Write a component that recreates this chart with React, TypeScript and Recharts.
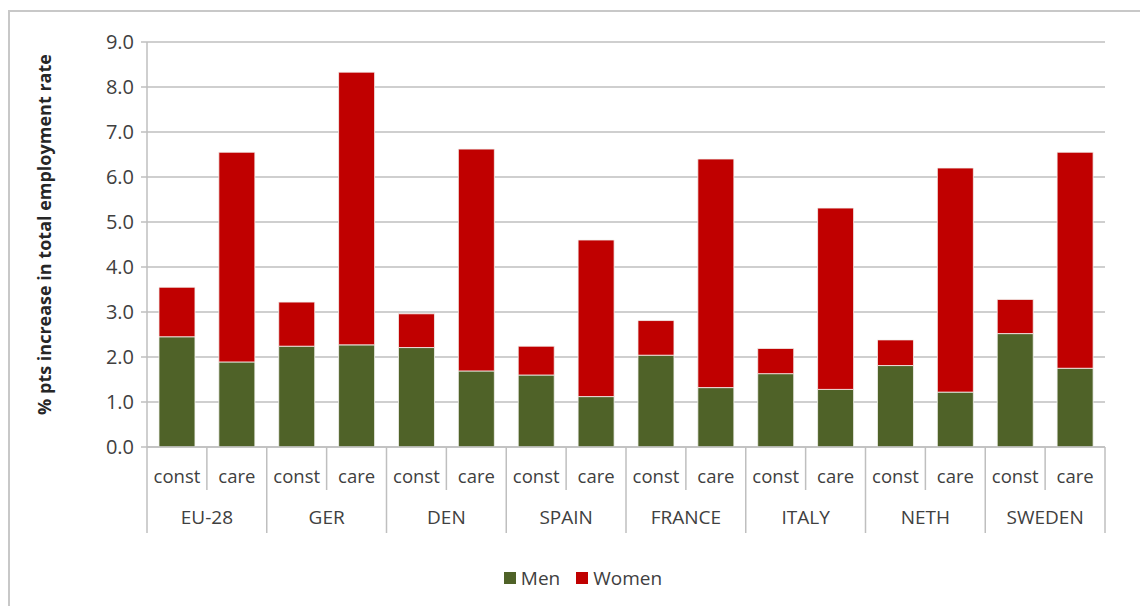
import React from "react";
import { BarChart, Bar, XAxis, YAxis, CartesianGrid } from "recharts";

const countries = ["EU-28", "GER", "DEN", "SPAIN", "FRANCE", "ITALY", "NETH", "SWEDEN"];
const scenarios = ["const", "care"];
// order: per country [const, care]
const menValues = [2.45, 1.89, 2.24, 2.27, 2.21, 1.69, 1.6, 1.12, 2.04, 1.32, 1.63, 1.28, 1.81, 1.22, 2.52, 1.75];
const womenValues = [1.1, 4.66, 0.98, 6.06, 0.75, 4.93, 0.64, 3.48, 0.77, 5.08, 0.56, 4.03, 0.57, 4.98, 0.76, 4.8];
const yTicks = [0, 1, 2, 3, 4, 5, 6, 7, 8, 9];

const MEN = "#4f6228";
const WOMEN = "#c00000";
const TEXT = "#404040";
const GRID = "#bfbfbf";
const FONT = "'Open Sans', sans-serif";

const data = countries.flatMap((c, ci) =>
  scenarios.map((s, si) => {
    const i = ci * scenarios.length + si;
    return { key: `${c}-${s}`, country: c, scenario: s, men: menValues[i], women: womenValues[i] };
  })
);

const CHART_W = 1140;
const CHART_H = 606;
const MARGIN = { top: 42, right: 35, left: 87, bottom: 69 };
const Y_W = 60;
const PLOT_W = CHART_W - MARGIN.left - Y_W - MARGIN.right;
const HALF = PLOT_W / data.length / 2;

const CatTick = (props: any) => {
  const { x, y, payload, index } = props;
  const d = data[index] || data.find((e) => e.key === payload.value);
  const isFirst = index % 2 === 0;
  const isLast = index === data.length - 1;
  const top = y - 8;
  return (
    <g>
      <line x1={x - HALF} x2={x - HALF} y1={top} y2={isFirst ? top + 86 : top + 43} stroke={GRID} strokeWidth={1.5} />
      {isLast && <line x1={x + HALF} x2={x + HALF} y1={top} y2={top + 86} stroke={GRID} strokeWidth={1.5} />}
      <text x={x} y={top + 36} textAnchor="middle" fontSize={18.5} fontFamily={FONT} fill={TEXT}>
        {d ? d.scenario : ""}
      </text>
      {isFirst && d && (
        <text x={x + HALF} y={top + 77} textAnchor="middle" fontSize={19} fontFamily={FONT} fill={TEXT}>
          {d.country}
        </text>
      )}
    </g>
  );
};

export default function App() {
  return (
    <div style={{ position: "absolute", left: 0, top: 0, width: CHART_W, height: CHART_H, background: "#fff", overflow: "hidden" }}>
      <div
        style={{
          position: "absolute",
          left: 8,
          top: 10,
          width: 1200,
          height: 700,
          borderLeft: "2px solid #c8c8c8",
          borderTop: "2px solid #c8c8c8",
        }}
      />
      <div style={{ position: "absolute", left: 0, top: 0 }}>
        <BarChart width={CHART_W} height={CHART_H} data={data} margin={MARGIN} barCategoryGap="20%">
          <CartesianGrid vertical={false} stroke={GRID} strokeWidth={1.5} />
          <XAxis
            dataKey="key"
            interval={0}
            tick={<CatTick />}
            tickLine={false}
            axisLine={{ stroke: GRID, strokeWidth: 1.5 }}
            height={90}
          />
          <YAxis
            width={Y_W}
            domain={[0, 9]}
            ticks={yTicks}
            tickFormatter={(v: number) => v.toFixed(1)}
            tick={{ fontSize: 20, fontFamily: FONT, fill: TEXT }}
            tickSize={6}
            tickMargin={7}
            tickLine={{ stroke: GRID, strokeWidth: 1.5 }}
            axisLine={{ stroke: GRID, strokeWidth: 1.5 }}
            label={{
              value: "% pts increase in total employment rate",
              angle: -90,
              position: "insideLeft",
              offset: 0,
              dx: -42,
              dy: -10,
              style: { textAnchor: "middle", fontSize: 18, fontWeight: 700, fontFamily: FONT, fill: "#262626" },
            }}
          />
          <Bar dataKey="men" stackId="a" fill={MEN} stroke="#f4f4f0" strokeWidth={0.8} isAnimationActive={false} />
          <Bar dataKey="women" stackId="a" fill={WOMEN} stroke="#f4f4f0" strokeWidth={0.8} isAnimationActive={false} />
        </BarChart>
      </div>
      <div
        style={{
          position: "absolute",
          top: 565,
          left: 0,
          width: CHART_W,
          display: "flex",
          justifyContent: "center",
          fontFamily: FONT,
          fontSize: 19,
          color: TEXT,
          paddingLeft: 26,
          boxSizing: "border-box",
        }}
      >
        <span style={{ display: "flex", alignItems: "center", marginRight: 16 }}>
          <span style={{ width: 12, height: 12, background: MEN, display: "inline-block", marginRight: 5 }} />
          Men
        </span>
        <span style={{ display: "flex", alignItems: "center" }}>
          <span style={{ width: 12, height: 12, background: WOMEN, display: "inline-block", marginRight: 5 }} />
          Women
        </span>
      </div>
    </div>
  );
}
